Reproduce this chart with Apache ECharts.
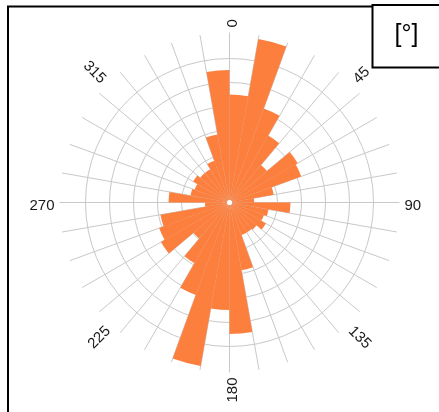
<!DOCTYPE html>
<html>
<head>
<meta charset="utf-8">
<script src="https://cdn.jsdelivr.net/npm/echarts@6/dist/echarts.min.js"></script>
<style>
  html, body { margin: 0; padding: 0; background: #ffffff; }
  #chart { width: 439px; height: 412px; }
</style>
</head>
<body>
<div id="chart"></div>
<script>
// Direction bins: 10-degree sectors, clockwise from north
const binStarts = [0, 10, 20, 30, 40, 50, 60, 70, 80, 90, 100, 110, 120, 130, 140, 150, 160, 170,
                   180, 190, 200, 210, 220, 230, 240, 250, 260, 270, 280, 290, 300, 310, 320, 330, 340, 350];
// Sector lengths, in ring units
const binValues = [4.50, 6.92, 4.17, 3.22, 2.04, 3.28, 3.18, 1.87, 1.03,
                   2.54, 1.65, 1.53, 1.75, 1.48, 1.44, 1.44, 2.87, 5.48,
                   4.48, 6.92, 4.10, 2.92, 1.96, 3.30, 3.12, 2.92, 1.02,
                   2.54, 1.65, 1.55, 1.75, 1.60, 1.60, 1.85, 2.88, 5.52];
// Compass labels
const labelAngles = [0, 45, 90, 135, 180, 225, 270, 315];
const labelTexts = ['0', '45', '90', '135', '180', '225', '270', '315'];
const unitText = '[°]';

// Layout
const cx = 229.5, cy = 202.5;
const outerR = 170;      // reach of the radial spokes
const ringStep = 24;     // pixels per ring
const ringCount = 6;
const gridColor = '#c9c9c9';
const barColor = '#fd7f3e';
const labelFont = '15px "Liberation Sans", Arial, sans-serif';

const categories = binStarts.map(String);

const chart = echarts.init(document.getElementById('chart'), null, { renderer: 'canvas' });

// Compass labels laid out along their spokes
const labelGraphics = labelAngles.map((a, i) => {
  const rad = a * Math.PI / 180;
  const rotDeg = a < 180 ? 90 - a : 270 - a;
  const th = rotDeg * Math.PI / 180;
  const r = outerR + 5;
  const px = cx + r * Math.sin(rad) + 3.5 * Math.sin(th);
  const py = cy - r * Math.cos(rad) + 3.5 * Math.cos(th);
  return {
    type: 'text',
    x: px, y: py,
    rotation: th,
    z: 20,
    style: {
      text: labelTexts[i],
      font: labelFont,
      fill: '#1a1a1a',
      align: a < 180 ? 'left' : 'right',
      verticalAlign: 'middle'
    }
  };
});

const option = {
  animation: false,
  backgroundColor: '#ffffff',
  polar: [
    { center: [cx, cy], radius: outerR },
    { center: [cx, cy], radius: ringStep * ringCount }
  ],
  angleAxis: [
    {
      polarIndex: 0,
      type: 'category',
      data: categories,
      startAngle: 90,
      clockwise: true,
      boundaryGap: true,
      axisLine: { show: false },
      axisTick: { show: false },
      axisLabel: { show: false, interval: 0 },
      splitLine: { show: true, interval: 0, lineStyle: { color: gridColor, width: 1 } }
    },
    {
      polarIndex: 1,
      type: 'value',
      min: 0, max: 360,
      show: false
    }
  ],
  radiusAxis: [
    {
      polarIndex: 0,
      type: 'value',
      min: 0,
      max: outerR / ringStep,
      show: false
    },
    {
      polarIndex: 1,
      type: 'value',
      min: 0,
      max: ringCount,
      interval: 1,
      axisLine: { show: false },
      axisTick: { show: false },
      axisLabel: { show: false },
      splitLine: { show: true, lineStyle: { color: gridColor, width: 1 } }
    }
  ],
  series: [
    {
      type: 'bar',
      coordinateSystem: 'polar',
      polarIndex: 0,
      data: binValues,
      barCategoryGap: '0%',
      itemStyle: { color: barColor },
      z: 3
    }
  ],
  graphic: [
    // plot frame
    {
      type: 'rect', z: 30,
      shape: { x: 8, y: 6.5, width: 460, height: 460 },
      style: { fill: 'none', stroke: '#000', lineWidth: 2 }
    },
    // unit box
    {
      type: 'rect', z: 31,
      shape: { x: 372.5, y: 5, width: 80, height: 62.5 },
      style: { fill: '#fff', stroke: '#000', lineWidth: 2 }
    },
    {
      type: 'text', z: 32,
      x: 406.5, y: 35.5,
      style: {
        text: unitText,
        font: '25px "Liberation Sans", Arial, sans-serif',
        fill: '#000',
        align: 'center',
        verticalAlign: 'middle'
      }
    },
    // hub
    {
      type: 'circle', z: 25,
      shape: { cx: cx, cy: cy, r: 2.6 },
      style: { fill: '#fff' }
    }
  ].concat(labelGraphics)
};

chart.setOption(option);
</script>
</body>
</html>
